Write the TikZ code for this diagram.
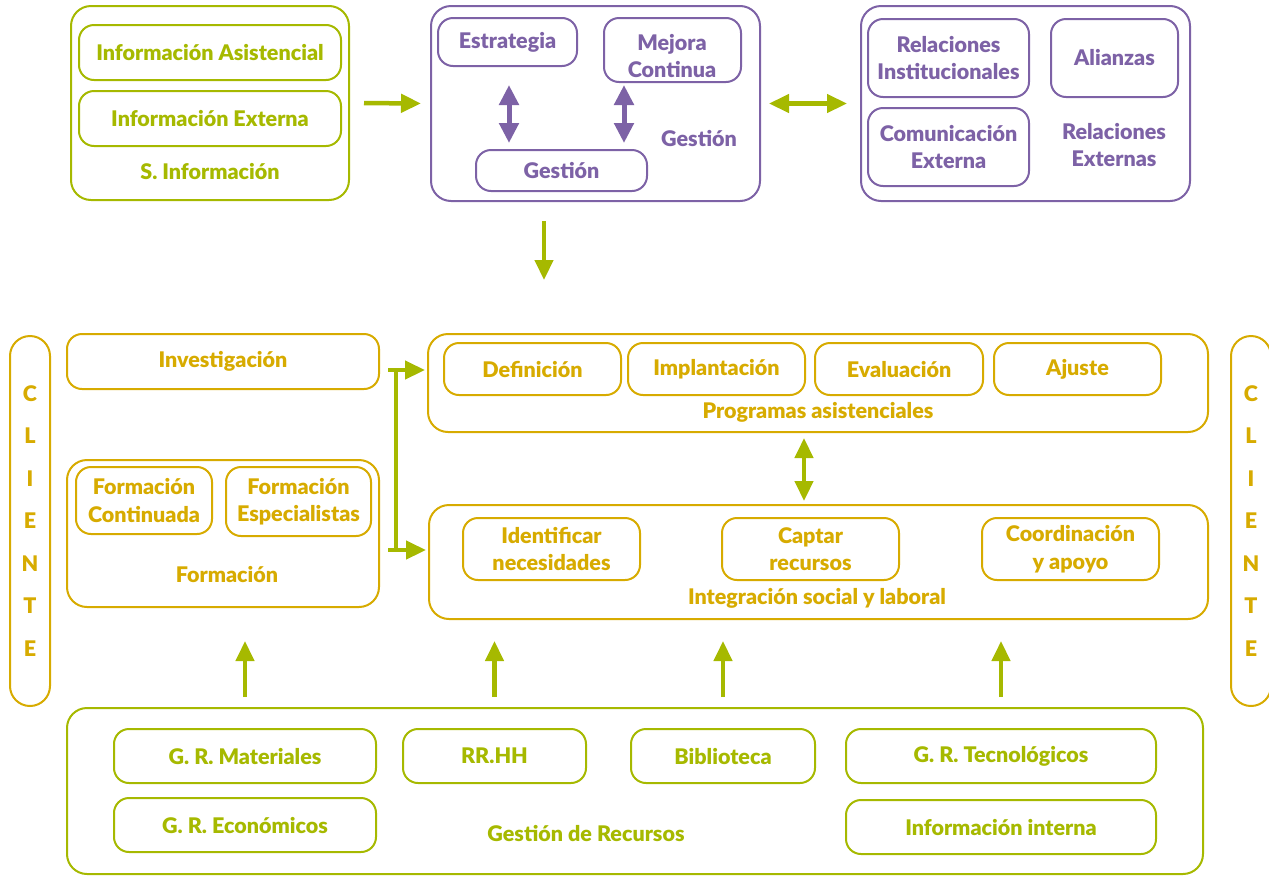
\documentclass[tikz,border=0pt]{standalone}
\usepackage{fontspec}
\setmainfont{Lato}[BoldFont={Lato Black}]
\usetikzlibrary{arrows.meta,calc}
\definecolor{cgreen}{HTML}{A6B900}
\definecolor{cpurple}{HTML}{7D62A6}
\definecolor{cgold}{HTML}{D7AB00}
\tikzset{
  txt/.style={font=\bfseries\fontsize{21.5}{27.5}\selectfont, align=center, inner sep=0pt},
  base/.style={draw, line width=2pt, rounded corners=15pt, inner sep=0pt, txt},
  outer/.style={base, rounded corners=20pt},
  gbox/.style={base, cgreen, text=cgreen},
  pbox/.style={base, cpurple, text=cpurple},
  obox/.style={base, cgold, text=cgold},
  glab/.style={txt, text=cgreen},
  plab/.style={txt, text=cpurple},
  olab/.style={txt, text=cgold},
  pill/.style={obox, rounded corners=20pt, font=\bfseries\fontsize{21.5}{42.5}\selectfont},
  garrow/.style={draw=cgreen, fill=cgreen, line width=4.5pt, -{Triangle[length=20pt,width=18pt]}},
  gdarrow/.style={draw=cgreen, fill=cgreen, line width=4.5pt, {Triangle[length=20pt,width=18pt]}-{Triangle[length=20pt,width=18pt]}},
  pdarrow/.style={draw=cpurple, fill=cpurple, line width=5pt, {Triangle[length=20pt,width=19pt]}-{Triangle[length=20pt,width=19pt]}},
  gline/.style={draw=cgreen, line width=4.5pt},
}
% box: style, name, x1, y1, x2, y2, text
\newcommand\bx[7]{\node[#1, minimum width={#5-#3}, minimum height={#6-#4}] (#2) at ({(#3+#5)/2},{(#4+#6)/2}) {#7};}
\begin{document}
\begin{tikzpicture}[x=1pt,y=-1pt]
\clip (0,0) rectangle (1269,876);
% ---------- top row ----------
\bx{gbox,outer}{sinf}{71}{6}{349}{200}{}
\bx{gbox}{ia}{79}{25}{341}{80}{Información Asistencial}
\bx{gbox}{ie}{79}{91}{341}{146}{Información Externa}
\node[glab] (silab) at (210,172) {S. Información};

\bx{pbox,outer}{gest}{431}{6}{760}{201}{}
\bx{pbox}{estr}{438}{18}{577}{66}{Estrategia}
\bx{pbox}{mej}{604}{18}{741}{82}{}
\node[plab] (mejt) at (672,56) {Mejora\\Continua};
\bx{pbox}{gin}{476}{150}{647}{191}{Gestión}
\node[plab] (glab) at (699,138) {Gestión};

\bx{pbox,outer}{relx}{861}{6}{1190}{201}{}
\bx{pbox}{ri}{868}{19}{1029}{97}{Relaciones\\Institucionales}
\bx{pbox}{ali}{1051}{19}{1178}{97}{Alianzas}
\bx{pbox}{ce}{868}{108}{1029}{186}{Comunicación\\Externa}
\node[plab] (rxlab) at (1114,145) {Relaciones\\Externas};

% ---------- middle ----------
\bx{pill}{cliL}{10}{336}{50}{706}{C\\L\\I\\E\\N\\T\\E}
\bx{pill}{cliR}{1231}{336}{1271}{706}{C\\L\\I\\E\\N\\T\\E}

\bx{obox}{inv}{67}{334}{379}{389}{Investigación}
\bx{obox,outer}{form}{67}{460}{379}{607}{}
\bx{obox}{fc}{76}{467}{212}{534}{Formación\\Continuada}
\bx{obox}{fe}{226}{467}{371}{536}{Formación\\Especialistas}
\node[olab] (flab) at (227,574) {Formación};

\bx{obox,outer}{prog}{428}{334}{1208}{432}{}
\bx{obox}{def}{444}{343}{621}{395}{Definición}
\bx{obox}{imp}{628}{343}{805}{395}{Implantación}
\bx{obox}{eva}{815}{343}{983}{395}{Evaluación}
\bx{obox}{aju}{994}{343}{1161}{395}{Ajuste}
\node[olab] (plab) at (818,412) {Programas asistenciales};

\bx{obox,outer}{integ}{429}{505}{1208}{619}{}
\bx{obox}{idn}{463}{518}{640}{580}{Identificar\\necesidades}
\bx{obox}{cap}{722}{518}{899}{580}{Captar\\recursos}
\bx{obox}{coo}{982}{518}{1159}{580}{Coordinación\\y apoyo}
\node[olab] (ilab) at (817,598) {Integración social y laboral};

% ---------- bottom ----------
\bx{gbox,outer}{rec}{67}{708}{1203}{874}{}
\bx{gbox}{grm}{114}{729}{376}{783}{G. R. Materiales}
\bx{gbox}{rrhh}{403}{729}{586}{783}{RR.HH}
\bx{gbox}{bib}{631}{729}{815}{783}{Biblioteca}
\bx{gbox}{grt}{846}{729}{1156}{783}{G. R. Tecnológicos}
\bx{gbox}{gre}{114}{798}{376}{852}{G. R. Económicos}
\bx{gbox}{ii}{846}{800}{1156}{854}{Información interna}
\node[glab] (rlab) at (586,833) {Gestión de Recursos};

% ---------- connectors ----------
\draw[garrow, shorten <=14pt, shorten >=9pt] (sinf.east) -- (gest.west);
\draw[gdarrow, shorten <=8pt, shorten >=13pt] (gest.east) -- (relx.west);
\coordinate (dtip) at (544,280);
\draw[garrow, shorten <=19pt] (gest.south -| dtip) -- (dtip);

\coordinate (pa1) at (509,0);
\coordinate (pa2) at (624,0);
\draw[pdarrow, shorten <=18pt, shorten >=6pt] (estr.south -| pa1) -- (gin.north -| pa1);
\draw[pdarrow, shorten <=2pt, shorten >=6pt] (mej.south -| pa2) -- (gin.north -| pa2);

\coordinate (bt) at (396,370);
\coordinate (bb) at (396,550);
\draw[gline] (bt) -- (bb);
\draw[garrow, shorten >=2pt] ($(bt)+(-8,0)$) -- (prog.west |- bt);
\draw[garrow, shorten >=2pt] ($(bb)+(-8,0)$) -- (integ.west |- bb);

\coordinate (va) at (804,0);
\draw[gdarrow, shorten <=5pt, shorten >=3pt] (prog.south -| va) -- (integ.north -| va);

\draw[garrow, shorten <=10pt, shorten >=33pt] (grm.north |- rec.north) -- (grm.north |- form.south);
\draw[garrow, shorten <=10pt, shorten >=21pt] (rrhh.north |- rec.north) -- (rrhh.north |- integ.south);
\draw[garrow, shorten <=10pt, shorten >=21pt] (bib.north |- rec.north) -- (bib.north |- integ.south);
\draw[garrow, shorten <=10pt, shorten >=21pt] (grt.north |- rec.north) -- (grt.north |- integ.south);
\end{tikzpicture}
\end{document}
